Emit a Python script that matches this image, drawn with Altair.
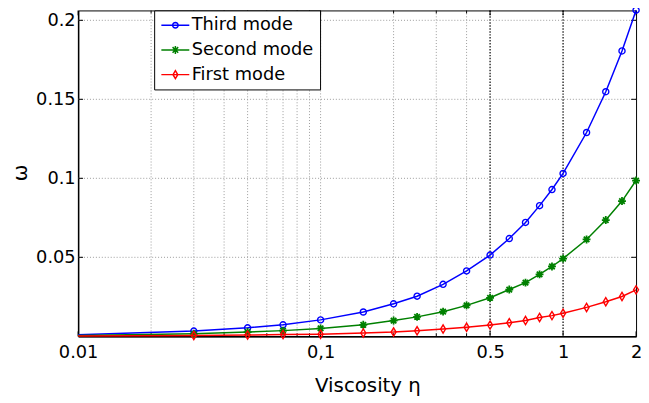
import math
import altair as alt
import pandas as pd

# ---- data ----
eta = [0.01, 0.03, 0.05, 0.07, 0.1, 0.15, 0.2, 0.25, 0.32, 0.4, 0.5,
       0.6, 0.7, 0.8, 0.9, 1.0, 1.25, 1.5, 1.75, 2.0]
third = [0.0010, 0.0033, 0.0054, 0.0073, 0.0104, 0.0154, 0.0206, 0.0254, 0.0329,
         0.0414, 0.0514, 0.0619, 0.0721, 0.0827, 0.0929, 0.1031, 0.1290, 0.1548,
         0.1806, 0.2064]
second = [0.0005, 0.0016, 0.0027, 0.0036, 0.0050, 0.0073, 0.0100, 0.0123, 0.0156,
          0.0196, 0.0244, 0.0296, 0.0340, 0.0392, 0.0442, 0.0492, 0.0613, 0.0736,
          0.0856, 0.0986]
first = [0.00015, 0.0005, 0.0008, 0.0011, 0.0013, 0.0021, 0.0027, 0.0035, 0.0046,
         0.0058, 0.0071, 0.0086, 0.0100, 0.0119, 0.0131, 0.0146, 0.0183, 0.0219,
         0.0252, 0.0294]

modes = ["Third mode", "Second mode", "First mode"]
colors = ["#0000ff", "#008000", "#ff0000"]
series = [third, second, first]

x_ticks = [0.01, 0.1, 0.5, 1, 2]
x_minor = [0.02, 0.03, 0.04, 0.05, 0.06, 0.07, 0.08, 0.09, 0.2, 0.3, 0.4]
x_grid_light = [0.02, 0.03, 0.04, 0.05, 0.06, 0.07, 0.08, 0.09, 0.1, 0.2, 0.3, 0.4]
x_grid_dark = [0.5, 1]
y_ticks = [0.05, 0.1, 0.15, 0.2]

W, H = 565, 330
FONT = "DejaVu Sans"

rows = []
for m, vals in zip(modes, series):
    for e, v in zip(eta, vals):
        rows.append({"eta": e, "omega": v, "mode": m})
df = pd.DataFrame(rows)

xs = alt.Scale(type="log", domain=[0.01, 2], nice=False)
ys = alt.Scale(domain=[0, 0.20625], nice=False, zero=False)

x_axis = alt.Axis(values=x_ticks,
                  labelExpr="datum.value == 0.1 ? '0,1' : '' + datum.value",
                  title="Viscosity η", ticks=False, grid=False, labelPadding=7,
                  labelFlush=False, labelOverlap=False,
                  titleX=293, titleY=56, titleBaseline="alphabetic", titleAlign="center")
y_axis = alt.Axis(values=y_ticks, labelExpr="'' + datum.value", title="ω",
                  ticks=False, grid=False, labelPadding=3, labelOverlap=False,
                  titleX=-52, titleY=164, titleBaseline="alphabetic", titleAlign="center",
                  titleAngle=270)


def X(f):
    return alt.X(f, scale=xs, axis=x_axis)


def Y(f):
    return alt.Y(f, scale=ys, axis=y_axis)


def poly(cx, cy, r, n=16):
    pts = [(cx + r * math.cos(2 * math.pi * k / n), cy + r * math.sin(2 * math.pi * k / n)) for k in range(n)]
    return "M" + "L".join(f"{x:.3f},{y:.3f}" for x, y in pts) + "Z"


# data markers
diamond = "M0,-1L0.6,0L0,1L-0.6,0Z"
asterisk = "M-1,0L1,0M0,-1L0,1M-0.7,-0.7L0.7,0.7M-0.7,0.7L0.7,-0.7"
markers = [("circle", 38, 1.4), (asterisk, 64, 1.8), (diamond, 70, 1.4)]

# legend symbols: line + marker (unit = 5px)
LX0, LX1, MC = -1.54, 4.12, 1.3
line_p = f"M{LX0},0L{LX1},0"
leg_paths = [
    line_p + poly(MC, 0, 0.56),
    line_p + f"M{MC-0.8},0L{MC+0.8},0M{MC},-0.8L{MC},0.8M{MC-0.57},-0.57L{MC+0.57},0.57M{MC-0.57},0.57L{MC+0.57},-0.57",
    line_p + f"M{MC},-0.8L{MC+0.48},0L{MC},0.8L{MC-0.48},0Z",
]

layers = []

# grid
layers.append(alt.Chart(pd.DataFrame({"v": x_grid_light})).mark_rule(
    color="#9a9a9a", strokeWidth=1, strokeDash=[1, 2]).encode(
    x=X("v:Q"), y=alt.value(0), y2=alt.value(H)))
layers.append(alt.Chart(pd.DataFrame({"v": x_grid_dark})).mark_rule(
    color="black", strokeWidth=1.2, strokeDash=[1.5, 1.5]).encode(
    x=X("v:Q"), y=alt.value(0), y2=alt.value(H)))
layers.append(alt.Chart(pd.DataFrame({"v": y_ticks})).mark_rule(
    color="#9a9a9a", strokeWidth=1, strokeDash=[1, 2]).encode(
    y=Y("v:Q"), x=alt.value(0), x2=alt.value(W)))

# inner ticks
for vals, ln in [(x_ticks, 5), (x_minor, 3)]:
    d = pd.DataFrame({"v": vals})
    layers.append(alt.Chart(d).mark_rule(color="black", strokeWidth=1).encode(
        x=X("v:Q"), y=alt.value(H), y2=alt.value(H - ln)))
    layers.append(alt.Chart(d).mark_rule(color="black", strokeWidth=1).encode(
        x=X("v:Q"), y=alt.value(0), y2=alt.value(ln)))
dy = pd.DataFrame({"v": y_ticks})
layers.append(alt.Chart(dy).mark_rule(color="black", strokeWidth=1).encode(
    y=Y("v:Q"), x=alt.value(0), x2=alt.value(5)))
layers.append(alt.Chart(dy).mark_rule(color="black", strokeWidth=1).encode(
    y=Y("v:Q"), x=alt.value(W - 5), x2=alt.value(W)))

# series lines and markers
for i, (m, col) in enumerate(zip(modes, colors)):
    sub = df[df["mode"] == m]
    layers.append(alt.Chart(sub).mark_line(color=col, strokeWidth=1.5).encode(
        x=X("eta:Q"), y=Y("omega:Q")))
    shp, sz, sw = markers[i]
    layers.append(alt.Chart(sub).transform_filter("datum.eta > 0.011").mark_point(
        shape=shp, size=sz, color=col, filled=False, strokeWidth=sw, opacity=1).encode(
        x=X("eta:Q"), y=Y("omega:Q")))

# invisible layer carrying the legend
layers.append(alt.Chart(df).mark_point(opacity=0, filled=False, strokeWidth=1.5).encode(
    x=X("eta:Q"), y=Y("omega:Q"),
    color=alt.Color("mode:N", scale=alt.Scale(domain=modes, range=colors), legend=alt.Legend(title=None)),
    shape=alt.Shape("mode:N", scale=alt.Scale(domain=modes, range=leg_paths), legend=alt.Legend(title=None)),
))

chart = alt.layer(*layers).properties(
    width=W, height=H,
    autosize=alt.AutoSizeParams(type="none"),
    padding={"left": 71, "top": 0, "right": 5, "bottom": 61},
).configure_view(stroke="black", strokeWidth=1).configure_axis(
    domainColor="black", domainWidth=1.5,
    labelFont=FONT, labelFontSize=18, labelColor="black",
    titleFont=FONT, titleFontSize=20, titleColor="black", titleFontWeight="normal",
).configure_legend(
    orient="none", legendX=77, legendY=0, padding=6, rowPadding=7, labelOffset=14,
    symbolSize=100, symbolStrokeWidth=1.5, symbolOpacity=1,
    labelFont=FONT, labelFontSize=18, labelColor="black", labelLimit=0,
    strokeColor="black", fillColor="white",
)

chart.save("out.html", embed_options={"renderer": "svg", "actions": False})
